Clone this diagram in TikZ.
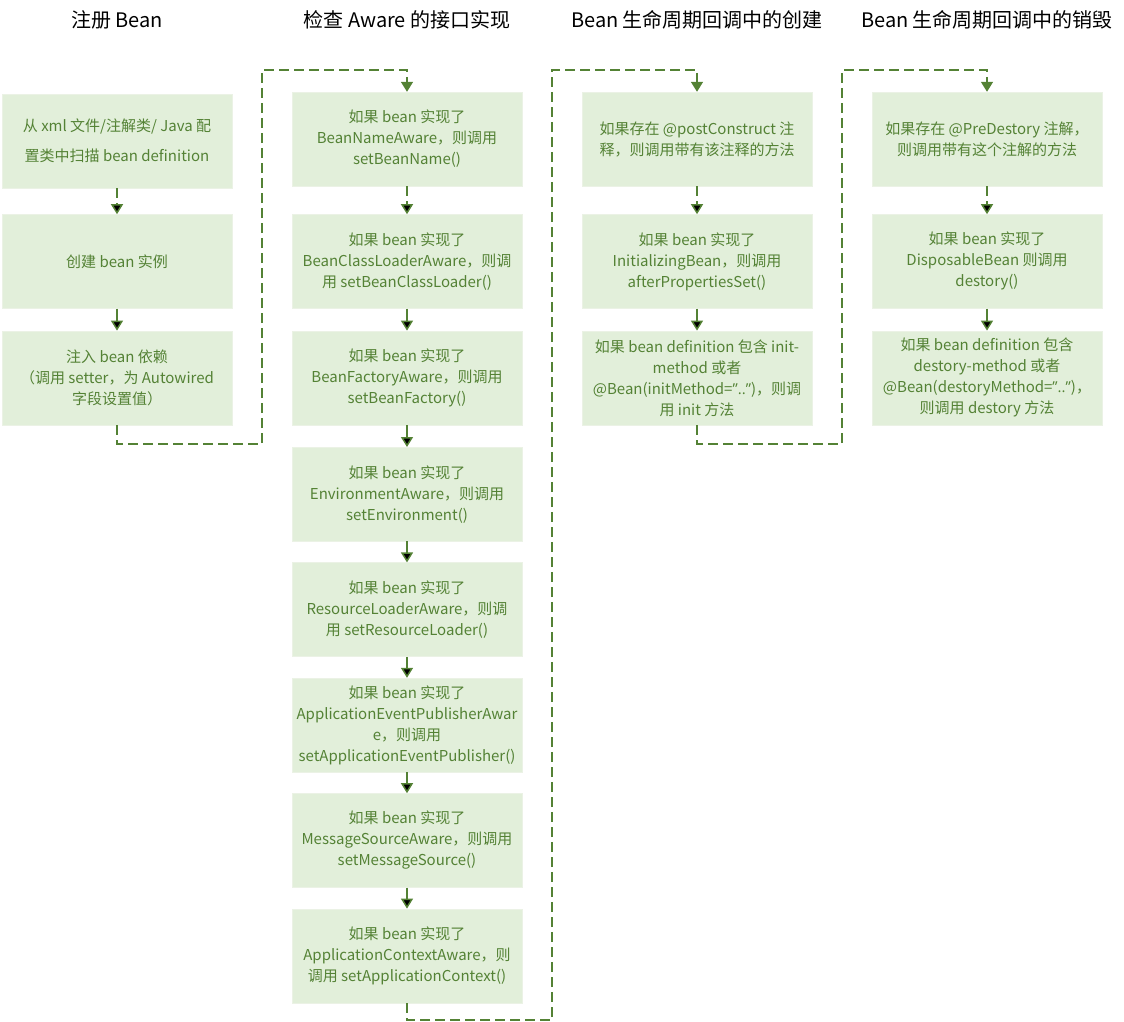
\documentclass[tikz,border=0pt]{standalone}
\usepackage{fontspec}
\setmainfont{Noto Sans CJK SC}
\newfontfamily\quotefont{Open Sans}
\usetikzlibrary{positioning,arrows.meta}
\definecolor{boxfill}{HTML}{E2EFDA}
\definecolor{boxline}{HTML}{EBF2E5}
\definecolor{leaf}{HTML}{548235}

\begin{document}
\begin{tikzpicture}[x=1pt,y=-1pt]
\tikzstyle{stage}=[rectangle,draw=boxline,fill=boxfill,text=leaf,minimum width=230pt,minimum height=94pt,inner sep=2pt,align=center,font=\fontsize{15}{21}\selectfont]
\tikzstyle{head}=[font=\fontsize{20}{22}\selectfont,text=black]
\tikzstyle{flow}=[draw=leaf,line width=1.5pt,-{Triangle[length=10pt,width=12pt]}]
\tikzstyle{jump}=[flow,dash pattern=on 10pt off 5pt]

\useasboundingbox (0,0) rectangle (1124,1022);

\begin{scope}
    % Titles
    \node [head] (t_reg) at (117,20) {注册 Bean};
    \node [head] (t_aw) at (407,20) {检查 Aware 的接口实现};
    \node [head] (t_init) at (697,20) {Bean 生命周期回调中的创建};
    \node [head] (t_dest) at (987,20) {Bean 生命周期回调中的销毁};

    % Register
    \node [stage,font=\fontsize{15}{30}\selectfont] (reg_1) at (117,141) {从 xml 文件/注解类/ Java 配\\置类中扫描 bean definition};
    \node [stage,below=26pt of reg_1] (reg_2) {创建 bean 实例};
    \node [stage,below=22pt of reg_2] (reg_3) {注入 bean 依赖\\（调用 setter，为 Autowired\\字段设置值）};

    % Aware
    \node [stage] (aw_1) at (407,139) {如果 bean 实现了\\BeanNameAware，则调用\\setBeanName()};
    \node [stage,below=28pt of aw_1] (aw_2) {如果 bean 实现了\\BeanClassLoaderAware，则调\\用 setBeanClassLoader()};
    \node [stage,below=22pt of aw_2] (aw_3) {如果 bean 实现了\\BeanFactoryAware，则调用\\setBeanFactory()};
    \node [stage,below=22pt of aw_3] (aw_4) {如果 bean 实现了\\EnvironmentAware，则调用\\setEnvironment()};
    \node [stage,below=21pt of aw_4] (aw_5) {如果 bean 实现了\\ResourceLoaderAware，则调\\用 setResourceLoader()};
    \node [stage,below=21pt of aw_5] (aw_6) {如果 bean 实现了\\ApplicationEventPublisherAwar\\e，则调用\\setApplicationEventPublisher()};
    \node [stage,below=21pt of aw_6] (aw_7) {如果 bean 实现了\\MessageSourceAware，则调用\\setMessageSource()};
    \node [stage,below=21pt of aw_7] (aw_8) {如果 bean 实现了\\ApplicationContextAware，则\\调用 setApplicationContext()};

    % Init callbacks
    \node [stage] (init_1) at (697,139) {如果存在 @postConstruct 注\\释，则调用带有该注释的方法};
    \node [stage,below=28pt of init_1] (init_2) {如果 bean 实现了\\InitializingBean，则调用\\afterPropertiesSet()};
    \node [stage,below=22pt of init_2] (init_3) {如果 bean definition 包含 init-\\method 或者\\@Bean(initMethod={\quotefont ”..”})，则调\\用 init 方法};

    % Destroy callbacks
    \node [stage] (dest_1) at (987,139) {如果存在 @PreDestory 注解，\\则调用带有这个注解的方法};
    \node [stage,below=28pt of dest_1] (dest_2) {如果 bean 实现了\\DisposableBean 则调用\\destory()};
    \node [stage,below=22pt of dest_2] (dest_3) {如果 bean definition 包含\\destory-method 或者\\@Bean(destoryMethod={\quotefont ”..”})，\\则调用 destory 方法};

    % Steps
    \path [jump] (reg_1) edge (reg_2);
    \path [flow] (reg_2) edge (reg_3);
    \path [jump] (aw_1) edge (aw_2);
    \path [flow] (aw_2) edge (aw_3);
    \path [flow] (aw_3) edge (aw_4);
    \path [flow] (aw_4) edge (aw_5);
    \path [flow] (aw_5) edge (aw_6);
    \path [flow] (aw_6) edge (aw_7);
    \path [flow] (aw_7) edge (aw_8);
    \path [jump] (init_1) edge (init_2);
    \path [flow] (init_2) edge (init_3);
    \path [jump] (dest_1) edge (dest_2);
    \path [flow] (dest_2) edge (dest_3);

    % Hand-over between phases
    \coordinate (low_1) at (262,444);
    \coordinate (up_1) at (262,70);
    \coordinate (low_2) at (552,1020);
    \coordinate (up_2) at (552,70);
    \coordinate (low_3) at (842,444);
    \coordinate (up_3) at (842,70);
    \draw [jump] (reg_3.south) |- (low_1) -- (up_1) -| (aw_1.north);
    \draw [jump] (aw_8.south) |- (low_2) -- (up_2) -| (init_1.north);
    \draw [jump] (init_3.south) |- (low_3) -- (up_3) -| (dest_1.north);
\end{scope}

\end{tikzpicture}
\end{document}
